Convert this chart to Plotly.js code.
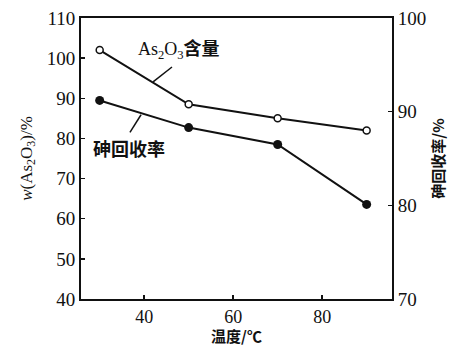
<!DOCTYPE html>
<html><head><meta charset="utf-8">
<script src="https://cdn.plot.ly/plotly-3.0.1.min.js"></script>
<style>body{margin:0;background:#fff}#c{width:450px;height:346px}</style>
</head><body><div id="c"></div>
<script>
const temperature = [30, 50, 70, 90];
const as2o3Content = [102, 88.5, 85, 82];
const arsenicRecovery = [91.2, 88.3, 86.5, 80.1];
const xTicks = [40, 60, 80];
const yLeftTicks = [40, 50, 60, 70, 80, 90, 100, 110];
const yRightTicks = [70, 80, 90, 100];

const serif = 'Liberation Serif';
const cjk = 'Noto Sans CJK SC';

const traces = [
  {x: temperature, y: as2o3Content, type: 'scatter', mode: 'lines+markers', yaxis: 'y',
   line: {color: '#111', width: 2}, marker: {symbol: 'circle', size: 7, color: '#fff', line: {color: '#111', width: 1.5}}},
  {x: temperature, y: arsenicRecovery, type: 'scatter', mode: 'lines+markers', yaxis: 'y2',
   line: {color: '#111', width: 2}, marker: {symbol: 'circle', size: 9, color: '#111'}}
];

const layout = {
  width: 450, height: 346,
  margin: {l: 81, r: 58, t: 18, b: 47},
  paper_bgcolor: '#fff', plot_bgcolor: '#fff',
  showlegend: false,
  font: {family: serif, color: '#111', size: 18},
  xaxis: {range: [25.8, 95.7], tickmode: 'array', tickvals: xTicks,
    ticks: 'inside', ticklen: 4, tickwidth: 1.5, tickcolor: '#111',
    showline: true, linewidth: 2, linecolor: '#111', mirror: true, showgrid: false, zeroline: false,
    tickfont: {family: serif, size: 18, color: '#111'},
    title: {text: '<b>温度/℃</b>', font: {family: cjk, size: 15}, standoff: 9}},
  yaxis: {range: [40, 110], tickmode: 'array', tickvals: yLeftTicks,
    ticks: 'inside', ticklen: 4, tickwidth: 1.5, tickcolor: '#111',
    showline: true, linewidth: 2, linecolor: '#111', showgrid: false, zeroline: false,
    tickfont: {family: serif, size: 19, color: '#111'},
    title: {text: '<i>w</i>(As<sub>2</sub>O<sub>3</sub>)/%', font: {family: serif, size: 17}, standoff: 10}},
  yaxis2: {range: [70, 100], tickmode: 'array', tickvals: yRightTicks,
    overlaying: 'y', side: 'right', ticks: 'inside', ticklen: 4, tickwidth: 1.5, tickcolor: '#111',
    showline: true, linewidth: 2, linecolor: '#111', showgrid: false, zeroline: false,
    tickfont: {family: serif, size: 19, color: '#111'},
    title: {text: '<b>砷回收率/%</b>', font: {family: cjk, size: 15}, standoff: 8}},
  shapes: [
    {type: 'line', xref: 'x', yref: 'y', x0: 46.25, y0: 97.8, x1: 42.0, y1: 94.1, line: {color: '#111', width: 1.5}},
    {type: 'line', xref: 'x', yref: 'y', x0: 39.3, y0: 85.9, x1: 36.8, y1: 81.5, line: {color: '#111', width: 1.5}}
  ],
  annotations: [
    {xref: 'x', yref: 'y', x: 47.8, y: 102.6, showarrow: false,
     text: 'As<sub>2</sub>O<sub>3</sub><span style="font-family:Noto Sans CJK SC;font-weight:bold">含量</span>',
     font: {family: serif, size: 18, color: '#111'}},
    {xref: 'x', yref: 'y', x: 36.6, y: 77.7, showarrow: false,
     text: '<b>砷回收率</b>', font: {family: cjk, size: 18, color: '#111'}}
  ]
};
Plotly.newPlot('c', traces, layout, {displayModeBar: false, staticPlot: true});
</script></body></html>
